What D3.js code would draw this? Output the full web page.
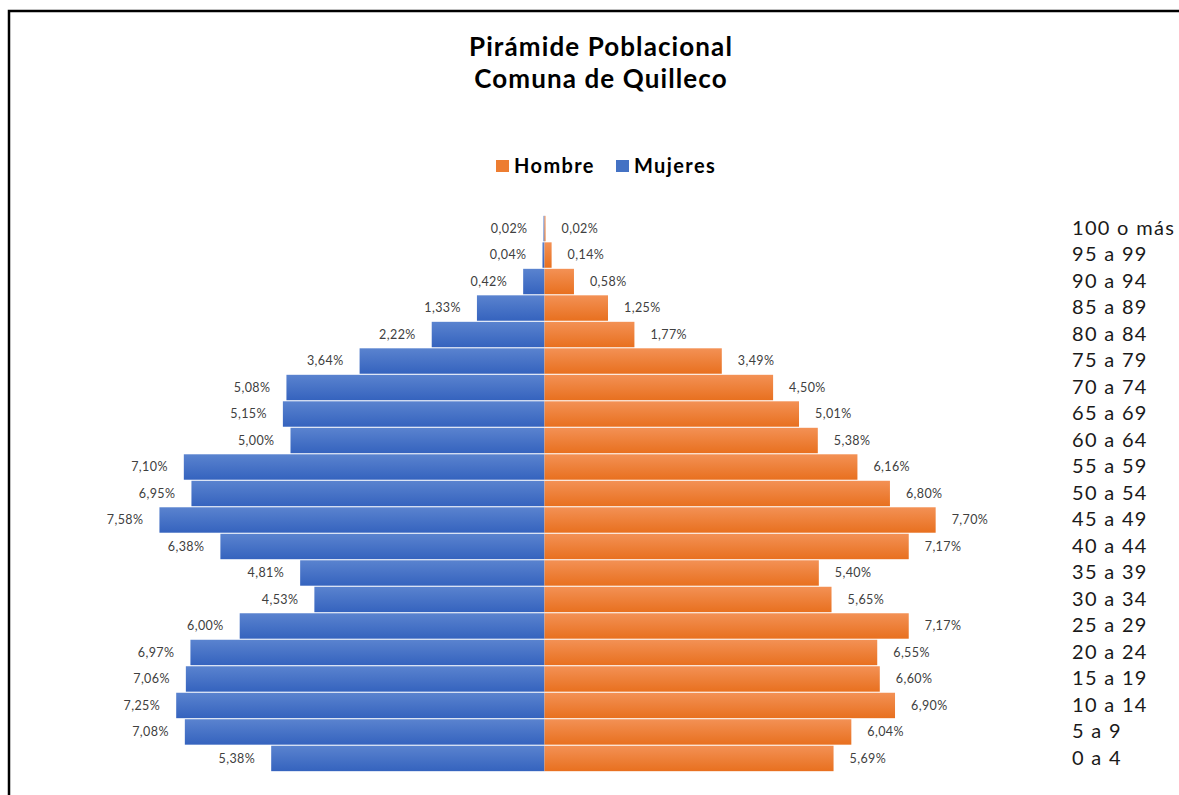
<!DOCTYPE html>
<html lang="es">
<head>
<meta charset="UTF-8">
<title>Pirámide Poblacional</title>
<script src="https://d3js.org/d3.v7.min.js"></script>
<style>
  html, body { margin: 0; padding: 0; background: #fff; }
  svg { display: block; }
  text { font-family: "Lato", "Open Sans", sans-serif; }
</style>
</head>
<body>
<div id="chart"></div>
<script>
// age groups, top to bottom
const ages = ["100 o más", "95 a 99", "90 a 94", "85 a 89", "80 a 84", "75 a 79", "70 a 74",
  "65 a 69", "60 a 64", "55 a 59", "50 a 54", "45 a 49", "40 a 44", "35 a 39", "30 a 34",
  "25 a 29", "20 a 24", "15 a 19", "10 a 14", "5 a 9", "0 a 4"];
const mujeres = [0.02, 0.04, 0.42, 1.33, 2.22, 3.64, 5.08, 5.15, 5.00, 7.10, 6.95, 7.58, 6.38,
  4.81, 4.53, 6.00, 6.97, 7.06, 7.25, 7.08, 5.38];
const hombre = [0.02, 0.14, 0.58, 1.25, 1.77, 3.49, 4.50, 5.01, 5.38, 6.16, 6.80, 7.70, 7.17,
  5.40, 5.65, 7.17, 6.55, 6.60, 6.90, 6.04, 5.69];
const seriesNames = ["Hombre", "Mujeres"];

const width = 1179, height = 795;
const cx = 544.5;

const svg = d3.select("#chart").append("svg")
  .attr("width", width)
  .attr("height", height);

// gradients like the office fill
const defs = svg.append("defs");
function grad(id, top, bottom) {
  const g = defs.append("linearGradient").attr("id", id)
    .attr("x1", 0).attr("y1", 0).attr("x2", 0).attr("y2", 1);
  g.append("stop").attr("offset", "0%").attr("stop-color", top);
  g.append("stop").attr("offset", "100%").attr("stop-color", bottom);
}
grad("gOrange", "#F39155", "#E8701F");
grad("gBlue", "#5A83CF", "#3563BE");

// frame
svg.append("rect")
  .attr("x", 9).attr("y", 11)
  .attr("width", 1300).attr("height", 900)
  .attr("fill", "none").attr("stroke", "#000").attr("stroke-width", 2.5);

// scales
const y = d3.scaleBand().domain(ages).range([215.3, 771.7]).paddingInner(0.04).paddingOuter(0.02);
const x = d3.scaleLinear().domain([0, 8]).range([0, 406.4]);

// bars
svg.selectAll(".bar-m")
  .data(ages)
  .enter().append("rect")
  .attr("class", "bar-m")
  .attr("x", (d, i) => cx - x(mujeres[i]))
  .attr("y", d => y(d))
  .attr("width", (d, i) => x(mujeres[i]))
  .attr("height", y.bandwidth())
  .attr("fill", "url(#gBlue)");

svg.selectAll(".bar-h")
  .data(ages)
  .enter().append("rect")
  .attr("class", "bar-h")
  .attr("x", cx)
  .attr("y", d => y(d))
  .attr("width", (d, i) => x(hombre[i]))
  .attr("height", y.bandwidth())
  .attr("fill", "url(#gOrange)");

// value labels
const fmt = v => v.toFixed(2).replace(".", ",") + "%";
svg.selectAll(".lab-m")
  .data(ages)
  .enter().append("text")
  .attr("x", (d, i) => cx - x(mujeres[i]) - 16)
  .attr("y", d => y(d) + y.bandwidth() / 2)
  .attr("dy", "0.35em")
  .attr("text-anchor", "end")
  .attr("font-size", 12.5)
  .attr("letter-spacing", 0.4)
  .attr("fill", "#404040")
  .text((d, i) => fmt(mujeres[i]));

svg.selectAll(".lab-h")
  .data(ages)
  .enter().append("text")
  .attr("x", (d, i) => cx + x(hombre[i]) + 16)
  .attr("y", d => y(d) + y.bandwidth() / 2)
  .attr("dy", "0.35em")
  .attr("text-anchor", "start")
  .attr("font-size", 12.5)
  .attr("letter-spacing", 0.4)
  .attr("fill", "#404040")
  .text((d, i) => fmt(hombre[i]));

// category axis on the right
const axis = svg.append("g")
  .attr("transform", "translate(1072,0)")
  .call(d3.axisRight(y).tickSize(0).tickPadding(0));
axis.select(".domain").remove();
axis.selectAll("text")
  .attr("font-size", 20)
  .attr("letter-spacing", 1.3)
  .attr("fill", "#1a1a1a")
  .attr("font-family", "Lato, 'Open Sans', sans-serif");

// title
const titleLines = ["Pirámide Poblacional", "Comuna de Quilleco"];
svg.selectAll(".title").data(titleLines).enter().append("text")
  .attr("x", 601).attr("y", (d, i) => 56 + i * 32)
  .attr("text-anchor", "middle")
  .attr("font-size", 26).attr("font-weight", "bold").attr("fill", "#000")
  .attr("letter-spacing", 1.1)
  .text(d => d);

// legend
const legend = [
  { name: seriesNames[0], color: "#ED7D31", x: 496 },
  { name: seriesNames[1], color: "#4472C4", x: 616 }
];
const lg = svg.selectAll(".legend").data(legend).enter().append("g")
  .attr("transform", d => `translate(${d.x},160)`);
lg.append("rect").attr("width", 13).attr("height", 12).attr("fill", d => d.color);
lg.append("text")
  .attr("x", 18).attr("y", 13)
  .attr("font-size", 20).attr("font-weight", "bold").attr("fill", "#000")
  .attr("letter-spacing", 1.4)
  .text(d => d.name);
</script>
</body>
</html>
